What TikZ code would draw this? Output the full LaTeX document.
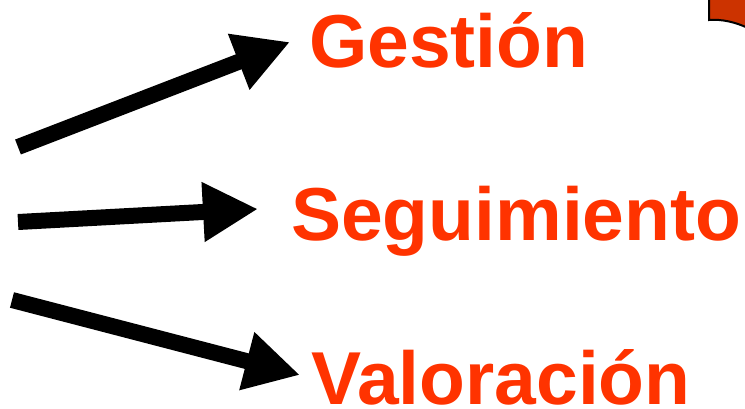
\documentclass[tikz,border=0pt]{standalone}
\usepackage{fontspec}
\setmainfont{Liberation Sans}
\usetikzlibrary{arrows.meta}
\definecolor{txtred}{RGB}{255,51,0}
\definecolor{boxred}{RGB}{204,51,0}
\begin{document}
\begin{tikzpicture}[x=1pt,y=-1pt,
  label/.style={anchor=base west,inner sep=0pt,text=txtred,font=\fontsize{75}{80}\selectfont\bfseries},
  bigarrow/.style={line width=16pt,-{Triangle[length=55pt,width=56pt]}}]
\useasboundingbox (0,0) rectangle (745,408);
\clip (0,0) rectangle (745,408);
% top-right shape
\path[fill=boxred,draw=black,line width=2pt] (709,-5) -- (709,20) .. controls (722,19) and (735,22) .. (748,28) -- (748,-5) -- cycle;
% labels
\node[label] (g) at (309,67) {Gestión};
\node[label] (s) at (291,240) {Seguimiento};
\node[label,text depth=0pt] (v) at (311,404) {Valoración};
% arrow ends
\coordinate (t1) at (18,147);
\coordinate (h1) at (290,42);
\coordinate (t2) at (18,222);
\coordinate (h2) at (258,209);
\coordinate (t3) at (12,300);
\coordinate (h3) at (300,375);
\draw[bigarrow] (t1) -- (h1);
\draw[bigarrow] (t2) -- (h2);
\draw[bigarrow] (t3) -- (h3);
\end{tikzpicture}
\end{document}
